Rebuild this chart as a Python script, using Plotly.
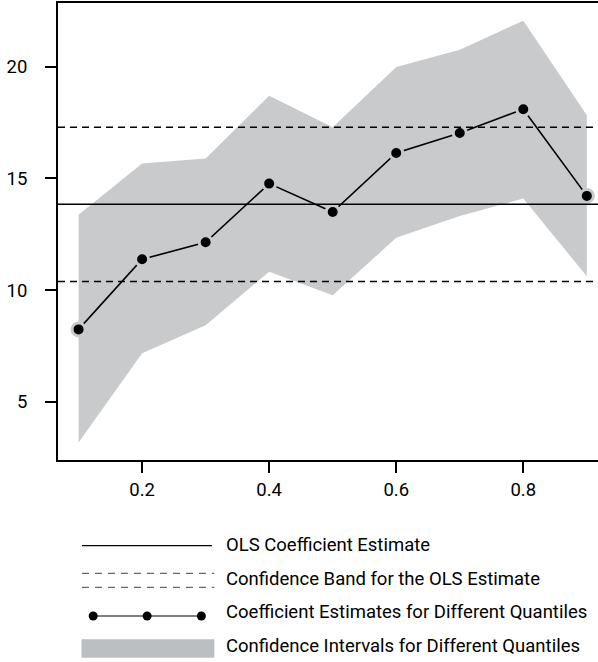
import plotly.graph_objects as go

# Quantile regression results
quantiles = [0.1, 0.2, 0.3, 0.4, 0.5, 0.6, 0.7, 0.8, 0.9]
qr_coef = [8.24, 11.38, 12.14, 14.77, 13.50, 16.14, 17.04, 18.10, 14.22]
qr_upper = [13.37, 15.67, 15.90, 18.71, 17.30, 19.99, 20.77, 22.07, 17.83]
qr_lower = [3.17, 7.17, 8.43, 10.82, 9.77, 12.34, 13.32, 14.10, 10.62]

# OLS estimate and its confidence band
ols_coef = 13.85
ols_upper = 17.30
ols_lower = 10.39

x_ticks = [0.2, 0.4, 0.6, 0.8]
x_tick_text = ["0.2", "0.4", "0.6", "0.8"]
y_ticks = [5, 10, 15, 20]
y_tick_text = ["5", "10", "15", "20"]

legend_labels = [
    "OLS Coefficient Estimate",
    "Confidence Band for the OLS Estimate",
    "Coefficient Estimates for Different Quantiles",
    "Confidence Intervals for Different Quantiles",
]

FONT = "Roboto, Liberation Sans, sans-serif"
BAND = "#c9cacc"
W, H = 598, 662
L, R, T, B = 57.5, 598, 3, 460

def px(x):
    return (x - L) / (R - L)

def py(y):
    return (B - y) / (B - T)

fig = go.Figure()

# Confidence region for quantile estimates
fig.add_trace(go.Scatter(
    x=quantiles + quantiles[::-1],
    y=qr_upper + qr_lower[::-1],
    fill="toself", fillcolor=BAND, mode="lines",
    line=dict(width=0), hoverinfo="skip", showlegend=False,
))

# OLS estimate and band
for val, dash in [(ols_coef, "solid"), (ols_upper, "7px,5px"), (ols_lower, "7px,5px")]:
    fig.add_hline(y=val, line=dict(color="black", width=1.5, dash=dash))

# Quantile coefficient estimates
fig.add_trace(go.Scatter(
    x=quantiles, y=qr_coef, mode="lines+markers",
    line=dict(color="black", width=1.6),
    marker=dict(size=13, color="black", line=dict(color=BAND, width=3)),
    showlegend=False,
))

# Legend keys, drawn below the plot
rows = [545.7, 580, 616, 648.5]
fig.add_shape(type="line", xref="paper", yref="paper",
              x0=px(81.5), x1=px(211.5), y0=py(rows[0]), y1=py(rows[0]),
              line=dict(color="black", width=1.2))
for yy in (573.3, 587.3):
    fig.add_shape(type="line", xref="paper", yref="paper",
                  x0=px(81.5), x1=px(214), y0=py(yy), y1=py(yy),
                  line=dict(color="#444444", width=1, dash="7px,6px"))
fig.add_shape(type="line", xref="paper", yref="paper",
              x0=px(92.7), x1=px(201), y0=py(rows[2]), y1=py(rows[2]),
              line=dict(color="black", width=1.2))
for cx in (92.7, 146.7, 201):
    fig.add_shape(type="circle", xref="paper", yref="paper",
                  x0=px(cx - 4.5), x1=px(cx + 4.5),
                  y0=py(rows[2] + 4.5), y1=py(rows[2] - 4.5),
                  fillcolor="black", line=dict(width=0))
fig.add_shape(type="rect", xref="paper", yref="paper",
              x0=px(81), x1=px(214), y0=py(657.7), y1=py(639.3),
              fillcolor="#bcbfc2", line=dict(width=0))

for lab, yy in zip(legend_labels, [545, 579, 612, 646]):
    fig.add_annotation(text=lab, xref="paper", yref="paper",
                       x=px(224), y=py(yy), xanchor="left", yanchor="middle",
                       showarrow=False, font=dict(size=18.5, color="black", family=FONT))

fig.update_layout(
    width=W, height=H,
    margin=dict(l=L, r=W - R, t=T, b=H - B, pad=0),
    plot_bgcolor="white", paper_bgcolor="white",
    font=dict(family=FONT, size=18.5, color="black"),
    showlegend=False,
)
fig.update_xaxes(
    range=[0.0676, 0.9176], tickvals=x_ticks, ticktext=x_tick_text,
    ticks="outside", ticklen=11, tickwidth=1.5, tickcolor="black",
    showline=True, linecolor="black", linewidth=1.8, mirror=True,
    showgrid=False, zeroline=False, ticklabelstandoff=1,
)
fig.update_yaxes(
    range=[2.39, 22.86], tickvals=y_ticks, ticktext=y_tick_text,
    ticks="outside", ticklen=11, tickwidth=1.5, tickcolor="black",
    showline=True, linecolor="black", linewidth=1.8,
    showgrid=False, zeroline=False, ticklabelstandoff=14,
)

fig.write_html("out.html")
